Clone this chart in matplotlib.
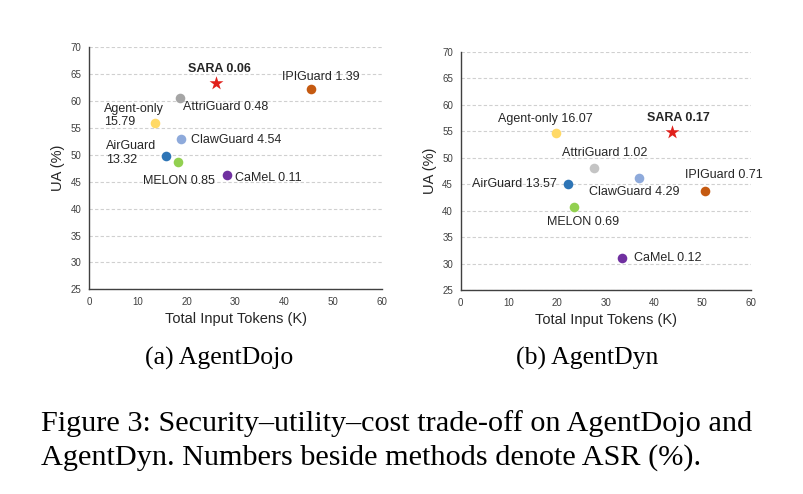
import matplotlib
matplotlib.use("Agg")
import matplotlib.pyplot as plt

# ---------------- data ----------------
methods = ["SARA", "IPIGuard", "AttriGuard", "Agent-only", "ClawGuard", "AirGuard", "MELON", "CaMeL"]

dojo_tokens = [25.9, 45.4, 18.6, 13.4, 18.9, 15.7, 18.1, 28.3]
dojo_ua = [63.4, 62.3, 60.6, 56.0, 52.95, 49.8, 48.6, 46.3]
dojo_labels = ["SARA 0.06", "IPIGuard 1.39", "AttriGuard 0.48", "Agent-only\n15.79",
               "ClawGuard 4.54", "AirGuard\n13.32", "MELON 0.85", "CaMeL 0.11"]

dyn_tokens = [43.7, 50.6, 27.5, 19.7, 36.8, 22.3, 23.5, 33.4]
dyn_ua = [54.8, 43.6, 48.0, 54.6, 46.2, 45.1, 40.7, 31.1]
dyn_labels = ["SARA 0.17", "IPIGuard 0.71", "AttriGuard 1.02", "Agent-only 16.07",
              "ClawGuard 4.29", "AirGuard 13.57", "MELON 0.69", "CaMeL 0.12"]

x_ticks = [0, 10, 20, 30, 40, 50, 60]
y_ticks = [25, 30, 35, 40, 45, 50, 55, 60, 65, 70]

colors_dojo = ["#E0201B", "#C55A11", "#A5A5A5", "#FFD966", "#8EAADB", "#2E75B6", "#92D050", "#7030A0"]
colors_dyn = ["#E0201B", "#C55A11", "#C4C4C4", "#FFD966", "#8EAADB", "#2E75B6", "#92D050", "#7030A0"]

# label placement: (dx px, dy px, ha, va)
place_dojo = [(4, 14, "center", "center"), (10, 12, "center", "center"),
              (3, -9, "left", "center"), (-51, 7, "left", "center"),
              (10, -1, "left", "center"), (-60, 3, "left", "center"),
              (37, -19, "right", "center"), (8, -3, "left", "center")]
place_dyn = [(6, 14, "center", "center"), (19, 16, "center", "center"),
             (11, 15, "center", "center"), (-11, 14, "center", "center"),
             (-4, -14, "center", "center"), (-12, 0, "right", "center"),
             (9, -15, "center", "center"), (12, 0, "left", "center")]

fig = plt.figure(figsize=(8.04, 4.94), dpi=100)
sans = ["Liberation Sans", "DejaVu Sans"]
serif = ["Liberation Serif", "DejaVu Serif"]


def draw(ax, xs, ys, labels, colors, place):
    ax.set_xlim(0, 60)
    ax.set_ylim(25, 70)
    ax.set_xticks(x_ticks)
    ax.set_yticks(y_ticks)
    ax.grid(axis="y", linestyle=(0, (3, 2)), color="#D0D0D0", linewidth=0.8)
    ax.set_axisbelow(True)
    for s in ["top", "right"]:
        ax.spines[s].set_visible(False)
    for s in ["left", "bottom"]:
        ax.spines[s].set_color("#404040")
        ax.spines[s].set_linewidth(1.0)
    ax.tick_params(length=0, labelsize=7, labelcolor="#404040", pad=5.5)
    for lbl in ax.get_xticklabels() + ax.get_yticklabels():
        lbl.set_family(sans)
    ax.set_xlabel("Total Input Tokens (K)", fontsize=10.5, family=sans, color="#262626", labelpad=4)
    ax.set_ylabel("UA (%)", fontsize=10.5, family=sans, color="#262626", labelpad=4)
    for i, (x, y) in enumerate(zip(xs, ys)):
        if i == 0:
            ax.scatter([x], [y], marker="*", s=110, color=colors[i], linewidths=0, zorder=3)
        else:
            ax.scatter([x], [y], marker="o", s=48, color=colors[i], linewidths=0, zorder=3)
        dx, dy, ha, va = place[i]
        ax.annotate(labels[i], (x, y), xytext=(dx, dy), textcoords="offset pixels",
                    ha=ha, va=va, fontsize=9, family=sans, color="#262626",
                    fontweight="bold" if i == 0 else "normal", linespacing=1.15)


ax1 = fig.add_axes([0.1111, 0.4144, 0.3637, 0.4899])
draw(ax1, dojo_tokens, dojo_ua, dojo_labels, colors_dojo, place_dojo)
ax2 = fig.add_axes([0.5730, 0.4130, 0.3607, 0.4823])
draw(ax2, dyn_tokens, dyn_ua, dyn_labels, colors_dyn, place_dyn)

fig.text(219 / 804, 1 - 358 / 494, "(a) AgentDojo", ha="center", va="center", fontsize=18.5, family=serif)
fig.text(587 / 804, 1 - 358 / 494, "(b) AgentDyn", ha="center", va="center", fontsize=18.5, family=serif)
fig.text(41 / 804, 1 - 424 / 494, "Figure 3: Security\u2013utility\u2013cost trade-off on AgentDojo and",
         ha="left", va="center", fontsize=21.8, family=serif)
fig.text(41 / 804, 1 - 458 / 494, "AgentDyn. Numbers beside methods denote ASR (%).",
         ha="left", va="center", fontsize=21.8, family=serif)

fig.savefig("out.png", dpi=100)
